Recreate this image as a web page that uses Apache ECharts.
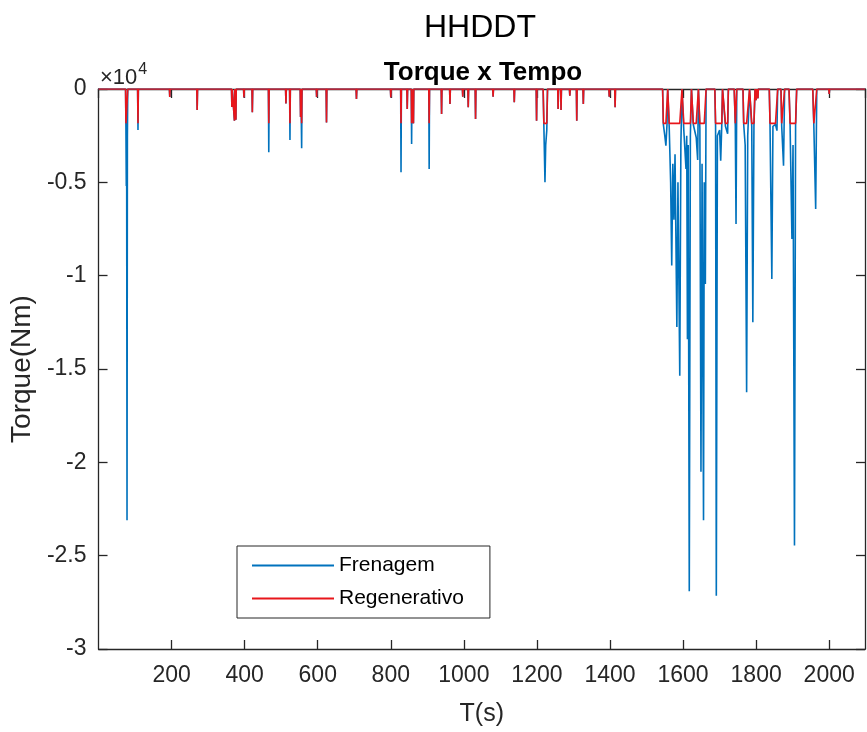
<!DOCTYPE html>
<html>
<head>
<meta charset="utf-8">
<title>HHDDT - Torque x Tempo</title>
<script src="https://cdn.jsdelivr.net/npm/echarts@6/dist/echarts.min.js"></script>
<style>
  html, body { margin: 0; padding: 0; background: #fff; }
  #chart { width: 867px; height: 732px; }
</style>
</head>
<body>
<div id="chart"></div>
<script>
// Torque samples of the HHDDT cycle: time (s), braking torque and its regenerative share (Nm)
const tempo = [
  0,
  74, 75, 76, 77, 78, 79, 80,
  107, 108, 109,
  194, 195, 196,
  269, 270, 271,
  364, 365, 366, 371, 372, 373, 375, 376, 377,
  397, 398, 399,
  420, 421, 422,
  465, 466, 467,
  512, 513, 514,
  523, 524, 525,
  552, 553, 554, 556, 557,
  596, 597, 598,
  623, 624, 625,
  705, 706, 707,
  799, 800, 801,
  827, 828, 829,
  844, 845, 846,
  856, 857, 858,
  861, 862, 863,
  904, 905, 906,
  938, 939, 940,
  961, 962, 963,
  996, 997, 998,
  1011, 1012, 1013,
  1031, 1032, 1033,
  1079, 1080, 1081,
  1137, 1138, 1139,
  1198, 1199, 1200,
  1217, 1219, 1222, 1224, 1227, 1229,
  1257, 1258, 1259,
  1265, 1266, 1267,
  1289, 1290, 1291,
  1308, 1309, 1310,
  1326, 1327, 1328,
  1397, 1398, 1399,
  1413, 1414, 1415,
  1544, 1546, 1550, 1553, 1556, 1558,
  1560, 1562, 1566, 1569, 1572, 1575, 1578, 1583, 1586, 1591, 1594, 1597,
  1599, 1602, 1608, 1610, 1612, 1614, 1617, 1620, 1623,
  1626, 1628, 1636, 1640, 1642,
  1644, 1646, 1649, 1652, 1656, 1658, 1661, 1663,
  1687, 1689, 1691, 1694, 1700, 1703, 1706, 1708,
  1712, 1716, 1722, 1724,
  1740, 1743, 1745, 1747,
  1764, 1766, 1770, 1774, 1777, 1782,
  1785, 1788, 1791, 1794, 1797,
  1799, 1800, 1801, 1804, 1805, 1806,
  1836, 1838, 1843, 1846, 1853, 1857, 1859,
  1868, 1870, 1875, 1878,
  1890, 1893, 1898, 1901, 1905, 1908, 1911,
  1955, 1958, 1963, 1966,
  1999, 2000, 2001,
  2098
];

const frenagem = [
  0,
  0, -2100, -5200, -3800, -23100, -2600, 0,
  0, -2200, 0,
  0, -430, 0,
  0, -1130, 0,
  0, -960, 0, 0, -1700, 0, 0, -1650, 0,
  0, -450, 0,
  0, -1240, 0,
  0, -3390, 0,
  0, -770, 0,
  0, -2730, 0,
  0, -1500, 0, -3180, 0,
  0, -430, 0,
  0, -1800, 0,
  0, -540, 0,
  0, -450, 0,
  0, -4460, 0,
  0, -1070, 0,
  0, -2950, 0,
  0, -1840, 0,
  0, -4290, 0,
  0, -1340, 0,
  0, -800, 0,
  0, -410, 0,
  0, -980, 0,
  0, -1610, 0,
  0, -410, 0,
  0, -710, 0,
  0, -1700, 0,
  0, -2000, -5000, -3000, -2200, 0,
  0, -1070, 0,
  0, -1130, 0,
  0, -360, 0,
  0, -1700, 0,
  0, -800, 0,
  0, -410, 0,
  0, -980, 0,
  0, -1900, -2500, -3040, -1900, 0,
  0, -2000, -5000, -9460, -4000, -7000, -3500, -12750, -5000, -15360, -3000, 0,
  0, -2200, -4290, -2500, -13400, -3000, -26900, -2500, 0,
  0, -1900, -2600, -3800, 0,
  0, -2100, -20500, -4000, -23100, -5000, -10450, 0,
  0, -2000, -27150, -2500, -2200, -3840, -1900, 0,
  0, -2000, -2400, 0,
  0, -2000, -7230, 0,
  0, -1900, -3000, -16250, -2500, 0,
  0, -2000, -12500, -2000, 0,
  0, -600, 0, 0, -500, 0,
  0, -1900, -10180, -2000, -1900, -2230, 0,
  0, -2000, -4110, 0,
  0, -2000, -8040, -3000, -24460, -2000, 0,
  0, -2000, -6430, 0,
  0, -270, 0,
  0
];

const regenerativo = [
  0,
  0, -1840, -1840, -1840, -1840, -1840, 0,
  0, -1840, 0,
  0, -430, 0,
  0, -1130, 0,
  0, -960, 0, 0, -1700, 0, 0, -1650, 0,
  0, -450, 0,
  0, -1240, 0,
  0, -1840, 0,
  0, -770, 0,
  0, -1840, 0,
  0, -1500, 0, -1840, 0,
  0, -430, 0,
  0, -1800, 0,
  0, -540, 0,
  0, -450, 0,
  0, -1840, 0,
  0, -1070, 0,
  0, -1840, 0,
  0, -1840, 0,
  0, -1840, 0,
  0, -1340, 0,
  0, -800, 0,
  0, -410, 0,
  0, -980, 0,
  0, -1610, 0,
  0, -410, 0,
  0, -710, 0,
  0, -1700, 0,
  0, -1840, -1840, -1840, -1840, 0,
  0, -1070, 0,
  0, -1130, 0,
  0, -360, 0,
  0, -1700, 0,
  0, -800, 0,
  0, -410, 0,
  0, -980, 0,
  0, -1840, -1840, -1840, -1840, 0,
  0, -1840, -1840, -1840, -1840, -1840, -1840, -1840, -1840, -1840, -1840, 0,
  0, -1840, -1840, -1840, -1840, -1840, -1840, -1840, 0,
  0, -1840, -1840, -1840, 0,
  0, -1840, -1840, -1840, -1840, -1840, -1840, 0,
  0, -1840, -1840, -1840, -1840, -1840, -1840, 0,
  0, -1840, -1840, 0,
  0, -1840, -1840, 0,
  0, -1840, -1840, -1840, -1840, 0,
  0, -1840, -1840, -1840, 0,
  0, -600, 0, 0, -500, 0,
  0, -1840, -1840, -1840, -1840, -1840, 0,
  0, -1840, -1840, 0,
  0, -1840, -1840, -1840, -1840, -1840, 0,
  0, -1840, -1840, 0,
  0, -270, 0,
  0
];

const seriesNames = ['Frenagem', 'Regenerativo'];
const yTickStep = 5000;   // axis labels are shown in units of 10^4
const xTickStep = 200;

const pairs = (ys) => tempo.map((t, i) => [t, ys[i]]);

const axisColor = '#262626';
const baseFont = 'Liberation Sans, Arial, Helvetica, sans-serif';

const chart = echarts.init(document.getElementById('chart'), null, { renderer: 'canvas' });

const boxAxis = (extra) => Object.assign({
  axisLine: { show: true, onZero: false, lineStyle: { color: axisColor, width: 1.3 } },
  axisTick: { show: true, inside: true, length: 9, lineStyle: { color: axisColor, width: 1.3 } },
  splitLine: { show: false }
}, extra);

chart.setOption({
  backgroundColor: '#ffffff',
  animation: false,
  textStyle: { fontFamily: baseFont },
  title: [
    {
      text: 'HHDDT',
      left: 475, top: 7, textAlign: 'center',
      textStyle: { fontSize: 32, fontWeight: 'normal', color: '#000', fontFamily: baseFont }
    },
    {
      text: 'Torque x Tempo',
      left: 478, top: 55, textAlign: 'center',
      textStyle: { fontSize: 26, fontWeight: 'bold', color: '#000', fontFamily: baseFont }
    }
  ],
  graphic: [
    {
      type: 'text', left: 100, top: 62,
      style: {
        text: '{a|×10}{b|4}',
        rich: {
          a: { fontSize: 22, fill: axisColor, fontFamily: baseFont, verticalAlign: 'bottom' },
          b: { fontSize: 16, fill: axisColor, fontFamily: baseFont, verticalAlign: 'top', padding: [0, 0, 11, 1] }
        }
      }
    }
  ],
  legend: {
    data: seriesNames,
    orient: 'vertical',
    left: 237, top: 546,
    padding: [9, 26, 9, 14],
    itemWidth: 82, itemHeight: 20, itemGap: 12,
    itemStyle: { opacity: 0 },
    borderColor: axisColor, borderWidth: 1, backgroundColor: '#fff',
    textStyle: { fontSize: 21, color: '#000', fontFamily: baseFont }
  },
  grid: { left: 98, right: 2, top: 89, bottom: 83, containLabel: false },
  xAxis: [
    boxAxis({
      type: 'value', min: 0, max: 2098, interval: xTickStep,
      name: 'T(s)', nameLocation: 'middle', nameGap: 53,
      nameTextStyle: { fontSize: 25, color: axisColor, fontFamily: baseFont },
      axisLabel: {
        showMinLabel: false, margin: 15, fontSize: 23, color: axisColor, fontFamily: baseFont,
        formatter: (v) => String(v)
      }
    }),
    boxAxis({
      type: 'value', position: 'top', min: 0, max: 2098, interval: xTickStep,
      axisLabel: { show: false }
    })
  ],
  yAxis: [
    boxAxis({
      type: 'value', min: -30000, max: 0, interval: yTickStep,
      name: 'Torque(Nm)', nameLocation: 'middle', nameGap: 62, nameRotate: 90,
      nameTextStyle: { fontSize: 28, color: axisColor, fontFamily: baseFont },
      axisLabel: {
        margin: 12, fontSize: 23, color: axisColor, fontFamily: baseFont,
        padding: [6, 0, 0, 0],
        formatter: (v) => String(+(v / 10000).toFixed(1))
      }
    }),
    boxAxis({
      type: 'value', position: 'right', min: -30000, max: 0, interval: yTickStep,
      axisLabel: { show: false }
    })
  ],
  series: [
    {
      name: seriesNames[0], type: 'line', data: pairs(frenagem),
      symbol: 'none', xAxisIndex: 0, yAxisIndex: 0,
      lineStyle: { color: '#0072BD', width: 1.6 }, itemStyle: { color: '#0072BD' },
      z: 3
    },
    {
      name: seriesNames[1], type: 'line', data: pairs(regenerativo),
      symbol: 'none', xAxisIndex: 0, yAxisIndex: 0,
      lineStyle: { color: '#E8161B', width: 1.6 }, itemStyle: { color: '#E8161B' },
      z: 4
    }
  ]
});
</script>
</body>
</html>
